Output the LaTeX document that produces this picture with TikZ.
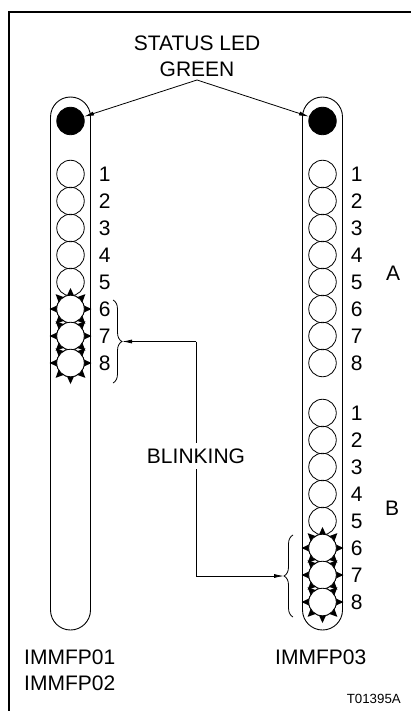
\documentclass[tikz,border=0pt]{standalone}
\usepackage{fontspec}
\setmainfont{Liberation Sans}
\usetikzlibrary{arrows.meta, calc, positioning, decorations.pathreplacing}

\tikzset{
    led/.style={circle, draw, line width=0.8pt, minimum size=27.5pt, inner sep=0pt},
    statusled/.style={led, fill=black},
    blinkled/.style={led, fill=white},
    num/.style={inner sep=0pt, font=\fontsize{21}{21}\selectfont},
    lbl/.style={inner sep=3pt, font=\fontsize{21}{26}\selectfont, align=center},
    bar/.style={draw, line width=0.9pt, rounded corners=20pt},
    arr/.style={-{Latex[length=10pt,width=4pt]}, line width=0.8pt},
    brace/.style={decorate, decoration={brace, amplitude=9pt}, line width=0.8pt},
}

% eight small triangles round a blinking led
\newcommand{\spikes}[1]{%
    \foreach \a in {0,45,...,315}
        \fill ($(#1)+(\a:21pt)$) -- ($(#1)+(\a+16:13.5pt)$) -- ($(#1)+(\a-16:13.5pt)$) -- cycle;
}

\begin{document}
\begin{tikzpicture}[x=1pt, y=-1pt]
        \useasboundingbox (0,0) rectangle (411,711);
        \draw[line width=1.2pt] (9,711) -- (9,12) -- (411,12);

        % the two modules
        \draw[bar] (50.5,97) rectangle (90.5,630);
        \draw[bar] (302.5,97) rectangle (342.5,630);

        \node[statusled] at (70.5,121)   (sL) {};
        \node[statusled] at (322.5,121)  (sR) {};

        % IMMFP01 / IMMFP02
        \foreach \i in {1,...,8}
            \coordinate (cL\i) at (70.5,{147+27*\i});
        \foreach \i in {1,...,5}
            \node[led] at (cL\i) (L\i) {};
        \foreach \i in {6,7,8}
            \spikes{cL\i}
        \foreach \i in {6,7,8}
            \node[blinkled] at (cL\i) (L\i) {};
        \foreach \i in {1,...,8}
            \node[num, right=14pt of L\i] (nL\i) {\i};

        % IMMFP03, group A
        \foreach \i in {1,...,8} {
            \node[led] at (322.5,{147+27*\i}) (A\i) {};
            \node[num, right=14pt of A\i] (nA\i) {\i};
        }

        % IMMFP03, group B
        \foreach \i in {1,...,8}
            \coordinate (cB\i) at (322.5,{386+27*\i});
        \foreach \i in {1,...,5}
            \node[led] at (cB\i) (B\i) {};
        \foreach \i in {6,7,8}
            \spikes{cB\i}
        \foreach \i in {6,7,8}
            \node[blinkled] at (cB\i) (B\i) {};
        \foreach \i in {1,...,8}
            \node[num, right=14pt of B\i] (nB\i) {\i};

        \node[num] at (393,273) (grpA) {A};
        \node[num] at (392,508) (grpB) {B};

        % status led callout
        \node[lbl, anchor=south] at (197,80) (status) {STATUS LED\\GREEN};
        \draw[arr] (status.south) -- (sL);
        \draw[arr] (status.south) -- (sR);

        % blinking callout
        \draw[brace] (113,300) -- (113,383);
        \draw[brace] (293,617) -- (293,535);
        \coordinate (tipL) at (122,341.5);
        \coordinate (tipR) at (284,576);
        \coordinate (jn) at (196,341.5);
        \draw[arr] (jn) -- (tipL);
        \draw[arr] (jn) |- (tipR);
        \node[lbl, fill=white, inner sep=6pt] at (196,456) (blink) {BLINKING};

        \node[num, anchor=base west] at (24,664.5) (mod1) {IMMFP01};
        \node[num, anchor=base west] at (24,690.5) (mod2) {IMMFP02};
        \node[num, anchor=base west] at (275,664.5) (mod3) {IMMFP03};
        \node[num, anchor=base east, font=\fontsize{13.3}{14}\selectfont] at (401,703) (fig) {T01395A};
\end{tikzpicture}
\end{document}
